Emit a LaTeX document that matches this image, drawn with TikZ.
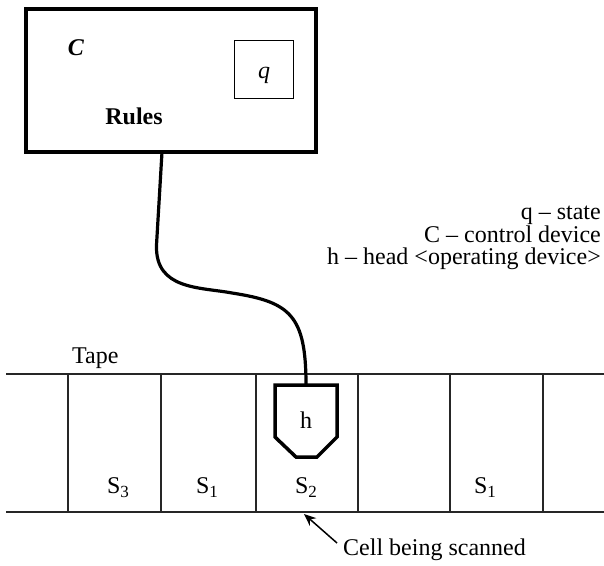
\documentclass[tikz,border=0pt]{standalone}
\usepackage{fontspec}
\setmainfont{Liberation Serif}
\usetikzlibrary{arrows.meta}
\newcommand{\mysub}[1]{\raisebox{-4pt}{\fontsize{17}{17}\selectfont #1}}
\begin{document}
\begin{tikzpicture}[x=1pt,y=-1pt,
  txt/.style={font=\fontsize{24}{28}\selectfont, inner sep=0pt},
  tapeline/.style={line width=1.8pt, draw=black!85},
  cellsep/.style={line width=1.2pt, draw=black!85},
  thick3/.style={line width=3.2pt}]
\useasboundingbox (0,0) rectangle (604,565);
% control device
\node[draw, thick3, minimum width=290pt, minimum height=143pt, inner sep=0pt] (ctrl) at (171,80.5) {};
\node[draw, line width=1.4pt, minimum width=59pt, minimum height=58pt, inner sep=0pt] (qbox) at (264,69.5) {};
\node[txt, anchor=base] (q) at (264,78) {\itshape q};
\node[txt, anchor=base] (C) at (76,55) {\bfseries\itshape C};
\node[txt, anchor=base] (rules) at (134,124) {\bfseries Rules};
% legend
\node[txt, anchor=base east] (l1) at (601,219) {q -- state};
\node[txt, anchor=base east] (l2) at (601,242) {C -- control device};
\node[txt, anchor=base east] (l3) at (601,264) {h -- head <operating device>};
% tape
\node[txt, anchor=base west] (tape) at (72,363) {Tape};
\coordinate (tl) at (6,374); \coordinate (tr) at (604,374);
\coordinate (bl) at (6,512); \coordinate (br) at (604,512);
\draw[tapeline] (tl) -- (tr);
\draw[tapeline] (bl) -- (br);
\foreach \x in {68,161,256,358,450,543}
  \draw[cellsep] (\x,374) -- (\x,512);
\node[txt, anchor=base] (s3) at (118,493) {S\mysub{3}};
\node[txt, anchor=base] (s1a) at (207,493) {S\mysub{1}};
\node[txt, anchor=base] (s2) at (306,493) {S\mysub{2}};
\node[txt, anchor=base] (s1b) at (485,493) {S\mysub{1}};
% head
\coordinate (headtop) at (306,385);
\draw[line width=3.5pt, line join=miter] (275,385) -- (337,385) -- (337,437) -- (317,457) -- (296,457) -- (275,437) -- cycle;
\node[txt, anchor=base] (h) at (306,428) {h};
% cable
\coordinate (ctrlout) at (162,152);
\draw[thick3] (ctrlout) -- (156.5,245) .. controls (155,290) and (200,287) .. (232,293)
  .. controls (290,302) and (306,315) .. (headtop);
% cell being scanned
\node[txt, anchor=base west] (cell) at (343,555) {Cell being scanned};
\coordinate (arrtail) at (337,543);
\coordinate (arrtip) at (304,514);
\draw[line width=1.5pt, -{Stealth[length=12pt,width=10pt]}] (arrtail) -- (arrtip);
\end{tikzpicture}
\end{document}
